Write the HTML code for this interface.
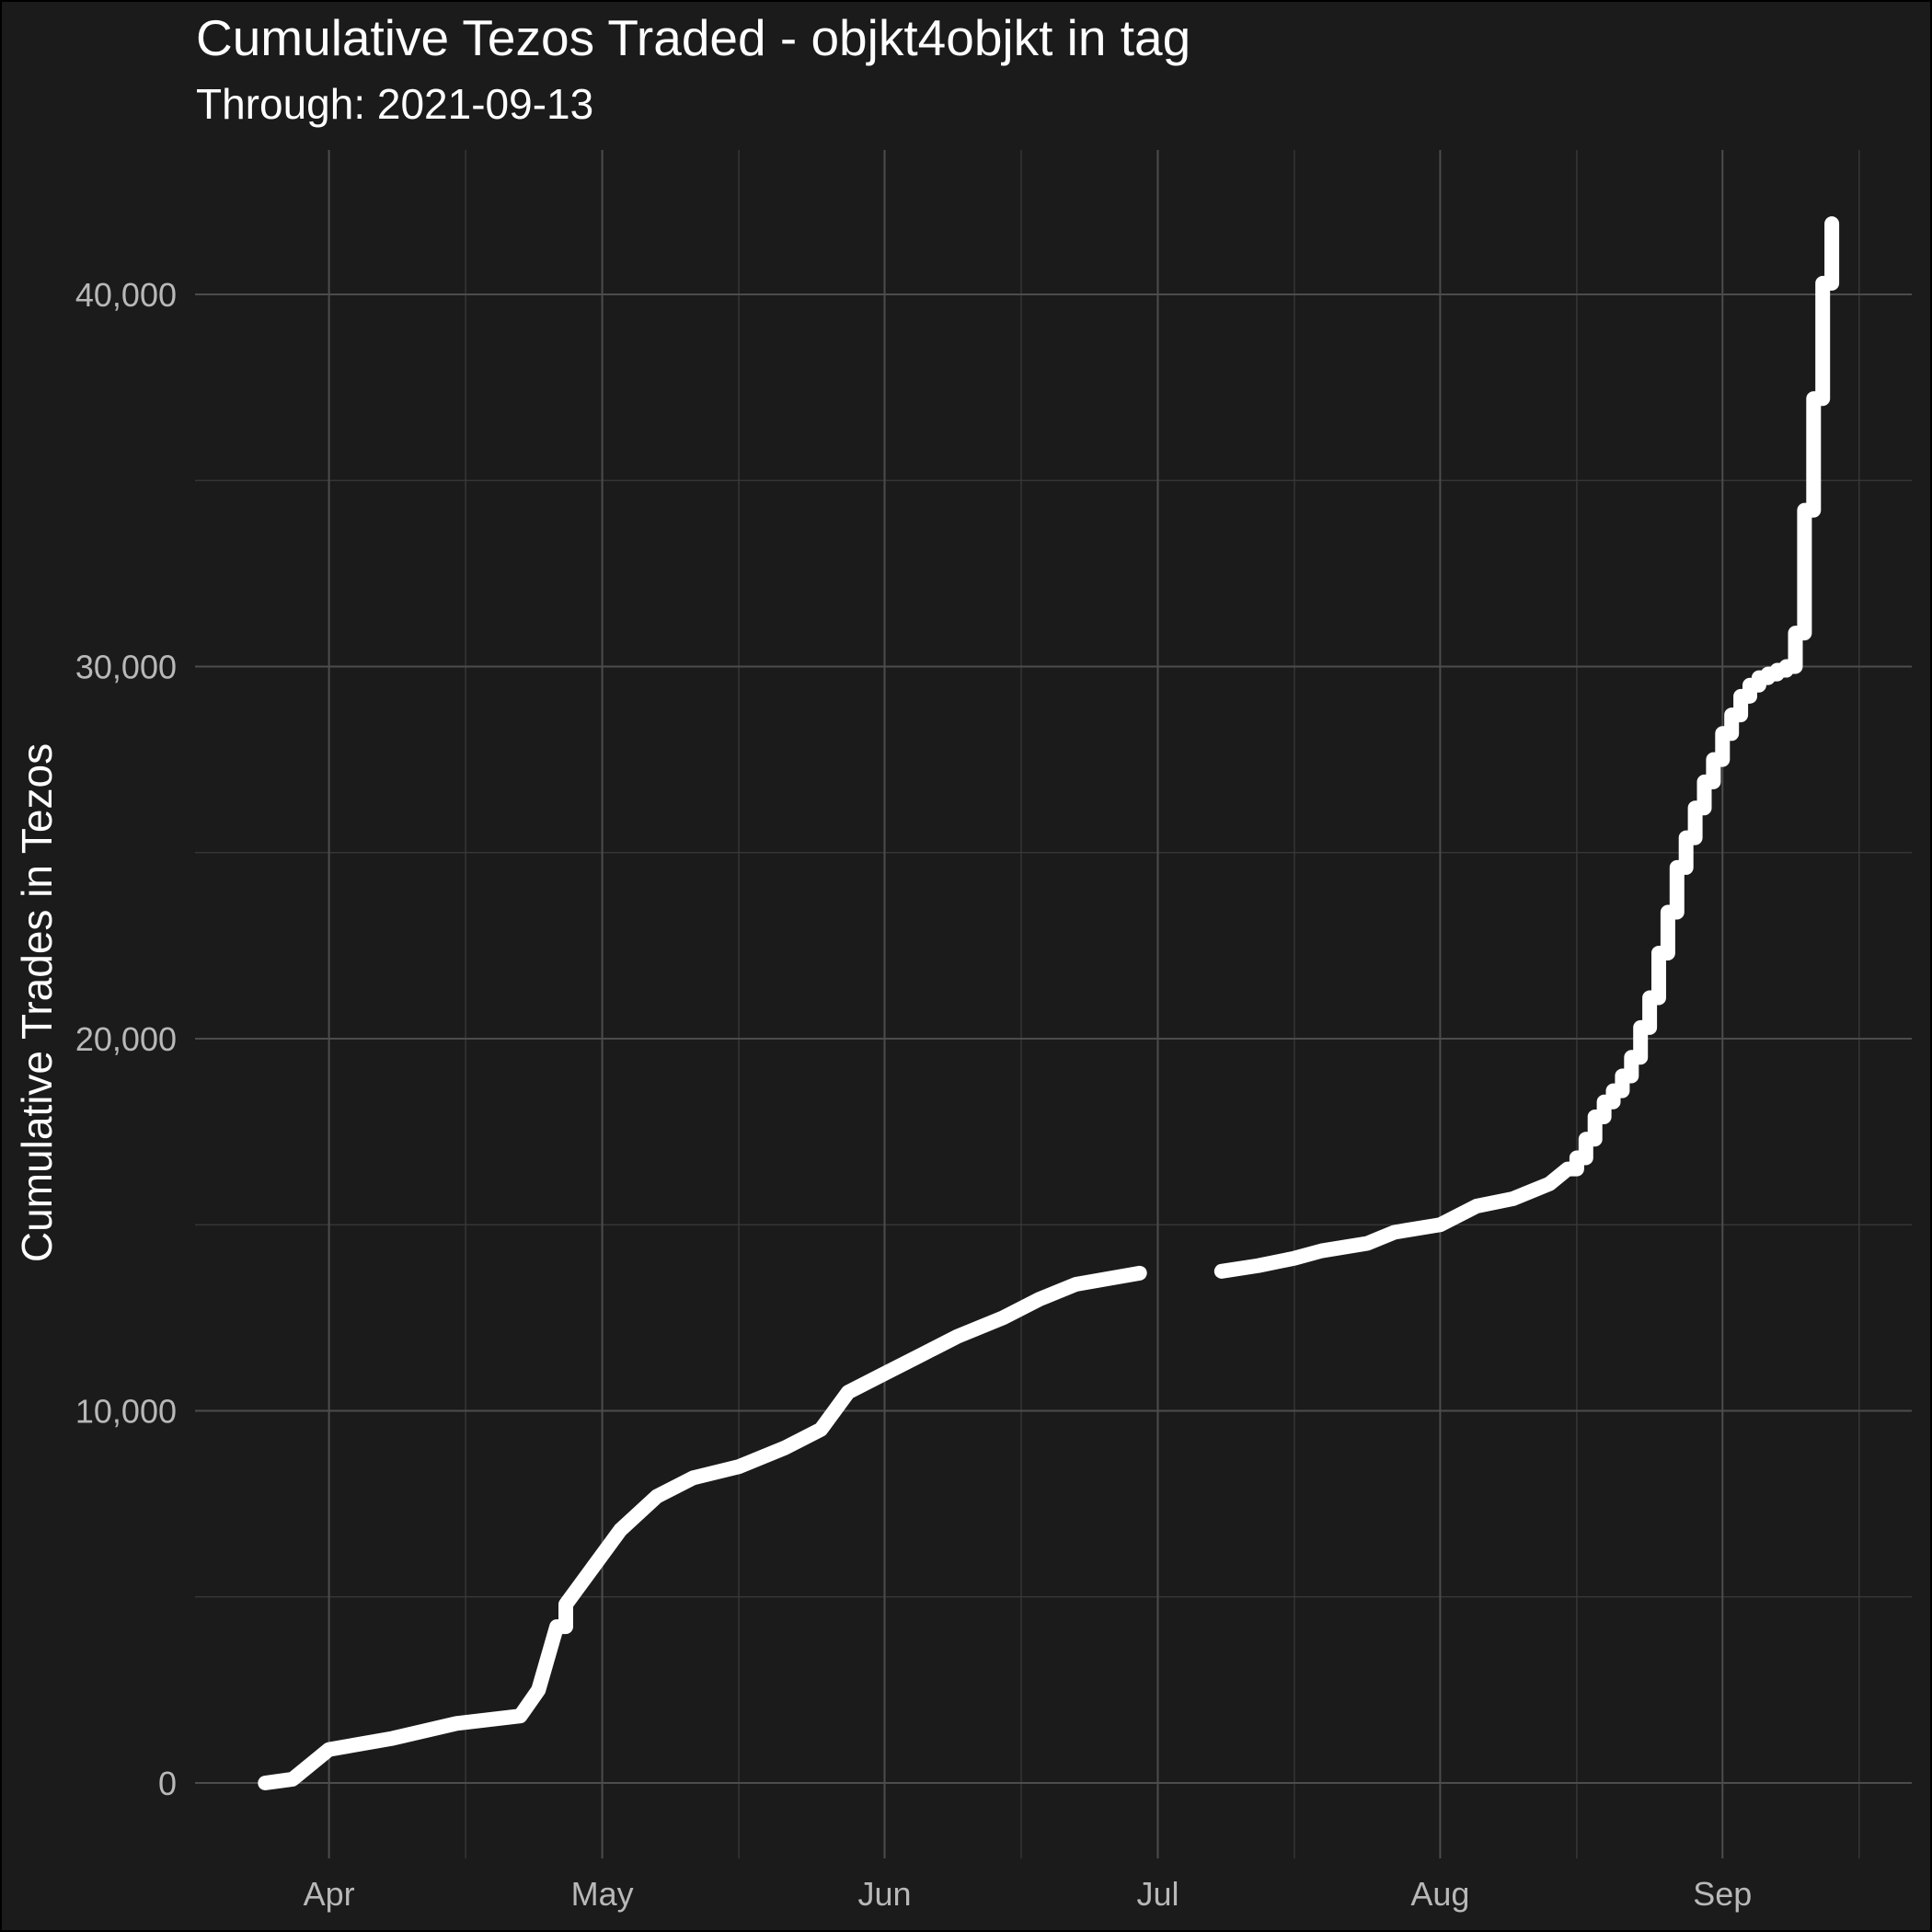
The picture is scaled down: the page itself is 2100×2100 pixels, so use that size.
<!DOCTYPE html>
<html><head><meta charset="utf-8"><style>
html,body{margin:0;padding:0;background:#000;}
svg{display:block;}
text{font-family:"Liberation Sans",sans-serif;}
</style></head><body>
<svg id="chart" width="2100" height="2100" viewBox="0 0 2100 2100" xmlns="http://www.w3.org/2000/svg">
<rect x="2" y="2" width="2096" height="2096" fill="#1b1b1b"/>
<g id="grid"></g>
<g id="series"></g>
<g id="axes"></g>
<text x="213" y="60" font-size="55" fill="#ffffff">Cumulative Tezos Traded - objkt4objkt in tag</text>
<text x="213" y="129" font-size="46" fill="#ffffff">Through: 2021-09-13</text>
<text transform="translate(56,1090) rotate(-90)" text-anchor="middle" font-size="46" fill="#ffffff">Cumulative Trades in Tezos</text>
</svg>
<script>
const dates = ["2021-03-25","2021-03-28","2021-04-01","2021-04-08","2021-04-15","2021-04-22","2021-04-24","2021-04-26","2021-04-27","2021-04-30","2021-05-03","2021-05-07","2021-05-11","2021-05-16","2021-05-21","2021-05-25","2021-05-28","2021-06-01","2021-06-05","2021-06-09","2021-06-14","2021-06-18","2021-06-22","2021-06-29",null,"2021-07-08","2021-07-12","2021-07-16","2021-07-19","2021-07-24","2021-07-27","2021-08-01","2021-08-05","2021-08-09","2021-08-13","2021-08-15","2021-08-16","2021-08-17","2021-08-18","2021-08-19","2021-08-20","2021-08-21","2021-08-22","2021-08-23","2021-08-24","2021-08-25","2021-08-26","2021-08-27","2021-08-28","2021-08-29","2021-08-30","2021-08-31","2021-09-01","2021-09-02","2021-09-03","2021-09-04","2021-09-05","2021-09-06","2021-09-07","2021-09-08","2021-09-09","2021-09-10","2021-09-11","2021-09-12","2021-09-13"];
const values = [0,100,900,1200,1600,1800,2500,4200,4800,5800,6800,7700,8200,8500,9000,9500,10500,11000,11500,12000,12500,13000,13400,13700,null,13750,13900,14100,14300,14500,14800,15000,15500,15700,16100,16500,16800,17300,17900,18300,18600,19000,19500,20300,21100,22300,23400,24600,25400,26200,26900,27500,28200,28700,29200,29500,29700,29800,29900,30000,30900,34200,37200,40300,41900];
const yTicks = [0,10000,20000,30000,40000];
const yTickLabels = ["0","10,000","20,000","30,000","40,000"];
const xTicks = ["2021-04-01","2021-05-01","2021-06-01","2021-07-01","2021-08-01","2021-09-01"];
const xTickLabels = ["Apr","May","Jun","Jul","Aug","Sep"];
const xMinor = ["2021-04-16","2021-05-16","2021-06-16","2021-07-16","2021-08-16","2021-09-16"];

const NS="http://www.w3.org/2000/svg";
const P={l:212,r:2078,t:163,b:2020};
const base=Date.UTC(2021,3,1);
function dayOf(s){const [a,b,c]=s.split("-").map(Number);return (Date.UTC(a,b-1,c)-base)/86400000;}
function xS(s){return 357.6+dayOf(s)*9.90;}
function yS(v){return 1938-v*0.04045;}
function mk(tag,attrs,parent){const e=document.createElementNS(NS,tag);for(const k in attrs)e.setAttribute(k,attrs[k]);parent.appendChild(e);return e;}
const grid=document.getElementById('grid'),axes=document.getElementById('axes'),series=document.getElementById('series');
for(let i=0;i<yTicks.length;i++){
  const v=yTicks[i]+5000; const y=yS(v);
  if(y>P.t){const l=mk('line',{x1:P.l,x2:P.r,y1:y,y2:y,stroke:'#3a3a3a','stroke-width':1.3},grid);
  
  }
}
xMinor.forEach(d=>{const x=xS(d);const l=mk('line',{x1:x,x2:x,y1:P.t,y2:P.b,stroke:'#3a3a3a','stroke-width':1.3},grid);
  
  });
yTicks.forEach((v,i)=>{const y=yS(v);
  const l=mk('line',{x1:P.l,x2:P.r,y1:y,y2:y,stroke:'#4c4c4c','stroke-width':2},grid);
  
  
  const t=mk('text',{x:192,y:y+13,'text-anchor':'end','font-size':36,fill:'#b8b8b8'},axes);
  t.textContent=yTickLabels[i];
  
  });
xTicks.forEach((d,i)=>{const x=xS(d);
  const l=mk('line',{x1:x,x2:x,y1:P.t,y2:P.b,stroke:'#4c4c4c','stroke-width':2},grid);
  
  
  const t=mk('text',{x:x,y:2071,'text-anchor':'middle','font-size':36,fill:'#b8b8b8'},axes);
  t.textContent=xTickLabels[i];
  
  });
let segs=[],cur=[];
for(let i=0;i<dates.length;i++){ if(dates[i]===null){if(cur.length)segs.push(cur);cur=[];} else cur.push([xS(dates[i]),yS(values[i]),dayOf(dates[i])]); }
if(cur.length)segs.push(cur);
segs.forEach(s=>{let d='M'+s[0][0]+','+s[0][1];
  for(let i=1;i<s.length;i++){
    if(s[i][2]-s[i-1][2]<=1){d+=' H'+s[i][0]+' V'+s[i][1];}
    else{d+=' L'+s[i][0]+','+s[i][1];}
  }
  const p=mk('path',{d:d,fill:'none',stroke:'#ffffff','stroke-width':16,'stroke-linecap':'round','stroke-linejoin':'round'},series);
  
  });
</script>
</body></html>
